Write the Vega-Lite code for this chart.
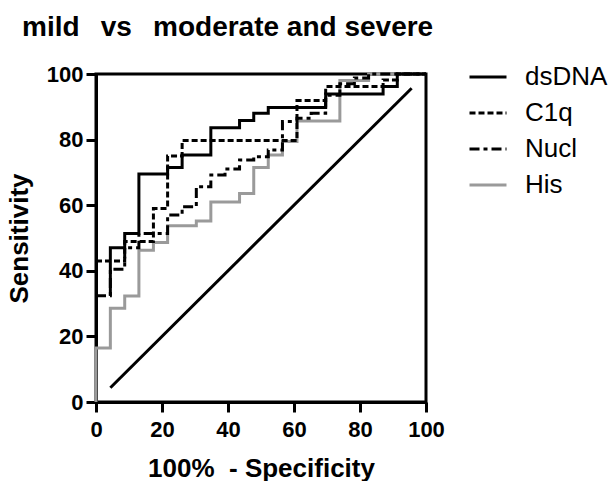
{
  "$schema": "https://vega.github.io/schema/vega-lite/v6.json",
  "width": 330,
  "height": 328,
  "autosize": {"type": "none"},
  "padding": {"left": 96, "top": 74, "right": 185, "bottom": 79},
  "background": "white",
  "config": {
    "font": "Liberation Sans",
    "view": {"stroke": "black", "strokeWidth": 3},
    "axis": {
      "domainColor": "black", "domainWidth": 3, "tickColor": "black", "tickWidth": 3, "tickSize": 10,
      "labelFont": "Liberation Sans", "labelFontSize": 22, "labelFontWeight": "bold", "labelColor": "black",
      "titleFont": "Liberation Sans", "titleFontSize": 26, "titleFontWeight": "bold", "titleColor": "black",
      "grid": false
    }
  },
  "title": {
    "text": "mild\u00a0\u2009 vs\u00a0\u2009 moderate and severe",
    "anchor": "start", "frame": "group", "fontSize": 28, "fontWeight": "bold",
    "font": "Liberation Sans", "color": "black", "dx": -74, "offset": 15
  },
  "layer": [
    {
      "data": {"values": [{"x": 4.35, "y": 4.35}, {"x": 95.65, "y": 95.65}]},
      "mark": {"type": "line", "color": "black", "strokeWidth": 3},
      "encoding": {
        "x": {"field": "x", "type": "quantitative", "scale": {"domain": [0, 100], "nice": false},
              "axis": {"values": [0, 20, 40, 60, 80, 100], "title": "100%\u00a0\u00a0- Specificity", "labelPadding": 7, "titlePadding": 15, "labelFlush": false}},
        "y": {"field": "y", "type": "quantitative", "scale": {"domain": [0, 100], "nice": false},
              "axis": {"values": [0, 20, 40, 60, 80, 100], "title": "Sensitivity", "labelPadding": 3, "titlePadding": 14, "labelFlush": false}}
      }
    },
    {
      "data": {"values": [
        {"s": "His", "i": 0, "x": 0, "y": 0}, {"s": "His", "i": 1, "x": 0, "y": 16.5}, {"s": "His", "i": 2, "x": 4.35, "y": 16.5}, {"s": "His", "i": 3, "x": 4.35, "y": 28.6},
        {"s": "His", "i": 4, "x": 8.7, "y": 28.6}, {"s": "His", "i": 5, "x": 8.7, "y": 32.3}, {"s": "His", "i": 6, "x": 13, "y": 32.3}, {"s": "His", "i": 7, "x": 13, "y": 46.3},
        {"s": "His", "i": 8, "x": 17.4, "y": 46.3}, {"s": "His", "i": 9, "x": 17.4, "y": 48.6}, {"s": "His", "i": 10, "x": 21.7, "y": 48.6}, {"s": "His", "i": 11, "x": 21.7, "y": 53.7},
        {"s": "His", "i": 12, "x": 30.4, "y": 53.7}, {"s": "His", "i": 13, "x": 30.4, "y": 55.2}, {"s": "His", "i": 14, "x": 34.8, "y": 55.2}, {"s": "His", "i": 15, "x": 34.8, "y": 61},
        {"s": "His", "i": 16, "x": 43.5, "y": 61}, {"s": "His", "i": 17, "x": 43.5, "y": 63.6}, {"s": "His", "i": 18, "x": 47.8, "y": 63.6}, {"s": "His", "i": 19, "x": 47.8, "y": 71.5},
        {"s": "His", "i": 20, "x": 52.2, "y": 71.5}, {"s": "His", "i": 21, "x": 52.2, "y": 75.3}, {"s": "His", "i": 22, "x": 56.5, "y": 75.3}, {"s": "His", "i": 23, "x": 56.5, "y": 79.4},
        {"s": "His", "i": 24, "x": 60.9, "y": 79.4}, {"s": "His", "i": 25, "x": 60.9, "y": 85.7}, {"s": "His", "i": 26, "x": 73.9, "y": 85.7}, {"s": "His", "i": 27, "x": 73.9, "y": 98},
        {"s": "His", "i": 28, "x": 82.6, "y": 98}, {"s": "His", "i": 29, "x": 82.6, "y": 100}, {"s": "His", "i": 30, "x": 100, "y": 100},

        {"s": "Nucl", "i": 0, "x": 0, "y": 32.4}, {"s": "Nucl", "i": 1, "x": 4.35, "y": 32.4}, {"s": "Nucl", "i": 2, "x": 4.35, "y": 40.5}, {"s": "Nucl", "i": 3, "x": 8.7, "y": 40.5},
        {"s": "Nucl", "i": 4, "x": 8.7, "y": 47}, {"s": "Nucl", "i": 5, "x": 13, "y": 47}, {"s": "Nucl", "i": 6, "x": 13, "y": 51.4}, {"s": "Nucl", "i": 7, "x": 21.7, "y": 51.4},
        {"s": "Nucl", "i": 8, "x": 21.7, "y": 57}, {"s": "Nucl", "i": 9, "x": 26.1, "y": 57}, {"s": "Nucl", "i": 10, "x": 26.1, "y": 59.5}, {"s": "Nucl", "i": 11, "x": 30.4, "y": 59.5},
        {"s": "Nucl", "i": 12, "x": 30.4, "y": 65.6}, {"s": "Nucl", "i": 13, "x": 34.8, "y": 65.6}, {"s": "Nucl", "i": 14, "x": 34.8, "y": 69.2}, {"s": "Nucl", "i": 15, "x": 39.1, "y": 69.2},
        {"s": "Nucl", "i": 16, "x": 39.1, "y": 71}, {"s": "Nucl", "i": 17, "x": 43.5, "y": 71}, {"s": "Nucl", "i": 18, "x": 43.5, "y": 73.8}, {"s": "Nucl", "i": 19, "x": 47.8, "y": 73.8},
        {"s": "Nucl", "i": 20, "x": 47.8, "y": 74.8}, {"s": "Nucl", "i": 21, "x": 52.2, "y": 74.8}, {"s": "Nucl", "i": 22, "x": 52.2, "y": 76.8}, {"s": "Nucl", "i": 23, "x": 56.5, "y": 76.8},
        {"s": "Nucl", "i": 24, "x": 56.5, "y": 85.5}, {"s": "Nucl", "i": 25, "x": 60.9, "y": 85.5}, {"s": "Nucl", "i": 26, "x": 60.9, "y": 86.5}, {"s": "Nucl", "i": 27, "x": 65.2, "y": 86.5},
        {"s": "Nucl", "i": 28, "x": 65.2, "y": 88}, {"s": "Nucl", "i": 29, "x": 69.6, "y": 88}, {"s": "Nucl", "i": 30, "x": 69.6, "y": 93.5}, {"s": "Nucl", "i": 31, "x": 73.9, "y": 93.5},
        {"s": "Nucl", "i": 32, "x": 73.9, "y": 97}, {"s": "Nucl", "i": 33, "x": 78.3, "y": 97}, {"s": "Nucl", "i": 34, "x": 78.3, "y": 98.8}, {"s": "Nucl", "i": 35, "x": 82.6, "y": 98.8},
        {"s": "Nucl", "i": 36, "x": 82.6, "y": 100}, {"s": "Nucl", "i": 37, "x": 100, "y": 100},

        {"s": "C1q", "i": 0, "x": 0, "y": 43}, {"s": "C1q", "i": 1, "x": 8.7, "y": 43}, {"s": "C1q", "i": 2, "x": 8.7, "y": 48.9}, {"s": "C1q", "i": 3, "x": 17.4, "y": 48.9},
        {"s": "C1q", "i": 4, "x": 17.4, "y": 59}, {"s": "C1q", "i": 5, "x": 21.7, "y": 59}, {"s": "C1q", "i": 6, "x": 21.7, "y": 75}, {"s": "C1q", "i": 7, "x": 26.1, "y": 75},
        {"s": "C1q", "i": 8, "x": 26.1, "y": 79.7}, {"s": "C1q", "i": 9, "x": 60.9, "y": 79.7}, {"s": "C1q", "i": 10, "x": 60.9, "y": 91.9}, {"s": "C1q", "i": 11, "x": 69.6, "y": 91.9},
        {"s": "C1q", "i": 12, "x": 69.6, "y": 96.2}, {"s": "C1q", "i": 13, "x": 87, "y": 96.2}, {"s": "C1q", "i": 14, "x": 87, "y": 98.2}, {"s": "C1q", "i": 15, "x": 91.3, "y": 98.2},
        {"s": "C1q", "i": 16, "x": 91.3, "y": 100}, {"s": "C1q", "i": 17, "x": 100, "y": 100},

        {"s": "dsDNA", "i": 0, "x": 4.35, "y": 32.4}, {"s": "dsDNA", "i": 1, "x": 4.35, "y": 47}, {"s": "dsDNA", "i": 2, "x": 8.7, "y": 47}, {"s": "dsDNA", "i": 3, "x": 8.7, "y": 51.4},
        {"s": "dsDNA", "i": 4, "x": 13, "y": 51.4}, {"s": "dsDNA", "i": 5, "x": 13, "y": 69.5}, {"s": "dsDNA", "i": 6, "x": 21.7, "y": 69.5}, {"s": "dsDNA", "i": 7, "x": 21.7, "y": 71.5},
        {"s": "dsDNA", "i": 8, "x": 26.1, "y": 71.5}, {"s": "dsDNA", "i": 9, "x": 26.1, "y": 75.3}, {"s": "dsDNA", "i": 10, "x": 34.8, "y": 75.3}, {"s": "dsDNA", "i": 11, "x": 34.8, "y": 83.6},
        {"s": "dsDNA", "i": 12, "x": 43.5, "y": 83.6}, {"s": "dsDNA", "i": 13, "x": 43.5, "y": 85.8}, {"s": "dsDNA", "i": 14, "x": 47.8, "y": 85.8}, {"s": "dsDNA", "i": 15, "x": 47.8, "y": 88},
        {"s": "dsDNA", "i": 16, "x": 52.2, "y": 88}, {"s": "dsDNA", "i": 17, "x": 52.2, "y": 89.8}, {"s": "dsDNA", "i": 18, "x": 69.6, "y": 89.8}, {"s": "dsDNA", "i": 19, "x": 69.6, "y": 93.9},
        {"s": "dsDNA", "i": 20, "x": 87, "y": 93.9}, {"s": "dsDNA", "i": 21, "x": 87, "y": 96.2}, {"s": "dsDNA", "i": 22, "x": 91.3, "y": 96.2}, {"s": "dsDNA", "i": 23, "x": 91.3, "y": 100},
        {"s": "dsDNA", "i": 24, "x": 100, "y": 100}
      ]},
      "mark": {"type": "line", "strokeWidth": 3, "strokeCap": "butt"},
      "encoding": {
        "x": {"field": "x", "type": "quantitative"},
        "y": {"field": "y", "type": "quantitative"},
        "order": {"field": "i", "type": "quantitative"},
        "color": {"field": "s", "type": "nominal",
          "scale": {"domain": ["dsDNA", "C1q", "Nucl", "His"], "range": ["black", "black", "black", "#9a9a9a"]},
          "legend": {"title": null, "orient": "none", "legendX": 372, "legendY": -17, "symbolType": "stroke", "symbolSize": 1369, "symbolStrokeWidth": 3, "labelFontSize": 26, "labelFont": "Liberation Sans", "labelColor": "black", "labelOffset": 17, "rowPadding": 3, "padding": 0}},
        "strokeDash": {"field": "s", "type": "nominal",
          "scale": {"domain": ["dsDNA", "C1q", "Nucl", "His"], "range": [[1, 0], [6, 3], [10, 4, 4, 4], [1, 0]]},
          "legend": {"title": null, "orient": "none", "legendX": 372, "legendY": -17, "symbolType": "stroke", "symbolSize": 1369, "symbolStrokeWidth": 3, "labelFontSize": 26, "labelFont": "Liberation Sans", "labelColor": "black", "labelOffset": 17, "rowPadding": 3, "padding": 0}}
      }
    }
  ]
}
